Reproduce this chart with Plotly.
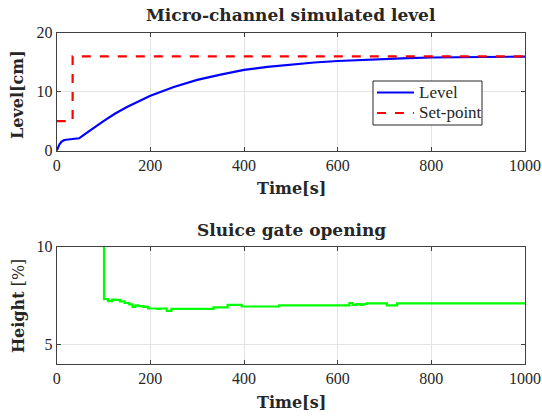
import plotly.graph_objects as go

# ---- data ----
level_t = [0, 3, 6, 10, 15, 20, 30, 40, 48, 55, 65, 80, 100, 125, 150, 200, 250, 300,
           350, 400, 450, 500, 550, 600, 650, 700, 750, 800, 850, 900, 950, 1000]
level_v = [0, 0.7, 1.1, 1.5, 1.75, 1.85, 1.9, 1.95, 2.1, 2.5, 3.0, 3.9, 5.0, 6.3, 7.4, 9.3,
           10.8, 12.0, 12.9, 13.7, 14.2, 14.6, 14.95, 15.2, 15.4, 15.55, 15.7, 15.8, 15.85,
           15.9, 15.92, 15.95]
setpoint_t = [0, 34, 34, 1000]
setpoint_v = [5, 5, 16, 16]

gate_t = [100, 101, 110, 118, 125, 135, 145, 155, 162, 168, 175, 185, 195, 215, 222, 235,
          245, 335, 365, 395, 475, 625, 632, 640, 648, 655, 662, 705, 727, 1000]
gate_v = [10, 7.32, 7.22, 7.3, 7.28, 7.2, 7.12, 7.05, 6.92, 7.0, 6.96, 6.92, 6.84, 6.82,
          6.84, 6.72, 6.82, 6.9, 7.02, 6.94, 7.0, 7.12, 7.02, 7.06, 7.02, 7.07, 7.1, 7.0,
          7.1, 7.1]

x_ticks = [0, 200, 400, 600, 800, 1000]
top_y_ticks = [0, 10, 20]
bot_y_ticks = [5, 10]
legend_names = ["Level", "Set-point"]

W, H = 542, 419
TICKFONT = dict(family="Liberation Serif", size=16, color="#262626")
BOLD = "DejaVu Serif"
AX = "#404040"
GRID = "#e3e3e3"
BLUE, RED, GREEN = "#0000ff", "#ff0000", "#00ff00"

fig = go.Figure()
fig.add_trace(go.Scatter(x=level_t, y=level_v, mode="lines", name=legend_names[0],
                         showlegend=False, line=dict(color=BLUE, width=2.2),
                         xaxis="x", yaxis="y"))
fig.add_trace(go.Scatter(x=setpoint_t, y=setpoint_v, mode="lines", name=legend_names[1],
                         showlegend=False, line=dict(color=RED, width=2.2, dash="dash"),
                         xaxis="x", yaxis="y"))
fig.add_trace(go.Scatter(x=gate_t, y=gate_v, mode="lines", showlegend=False,
                         line=dict(color=GREEN, width=2.2, shape="hv"),
                         xaxis="x2", yaxis="y2"))

xdom = [56.7 / W, 525 / W]
common_x = dict(range=[0, 1000], tickvals=x_ticks, showgrid=True, gridcolor=GRID, gridwidth=1,
                showline=True, linecolor=AX, linewidth=1, mirror="ticks", ticks="inside",
                ticklen=4, tickcolor=AX, tickfont=TICKFONT, zeroline=False, domain=xdom,
                automargin=False)
common_y = dict(showgrid=True, gridcolor=GRID, gridwidth=1, showline=True, linecolor=AX,
                linewidth=1, mirror="ticks", ticks="inside", ticklen=4, tickcolor=AX,
                tickfont=TICKFONT, zeroline=False, automargin=False)

fig.update_layout(
    width=W, height=H, margin=dict(l=0, r=0, t=0, b=0, autoexpand=False),
    paper_bgcolor="white", plot_bgcolor="white",
    xaxis=dict(**common_x, anchor="y"),
    yaxis=dict(**common_y, range=[0, 20], tickvals=top_y_ticks,
               domain=[1 - 150.7 / H, 1 - 32.7 / H], anchor="x"),
    xaxis2=dict(**common_x, anchor="y2"),
    yaxis2=dict(**common_y, range=[4, 10], tickvals=bot_y_ticks,
                domain=[1 - 364 / H, 1 - 246.7 / H], anchor="x2"),
    showlegend=False,
)


def px_x(p):
    return p / W


def px_y(p):
    return 1 - p / H


def ann(text, px, py, size=16, angle=0, family=BOLD, xanchor="center"):
    fig.add_annotation(text=text, x=px_x(px), y=px_y(py), xref="paper", yref="paper",
                       showarrow=False, textangle=angle, xanchor=xanchor, yanchor="middle",
                       font=dict(family=family, size=size, color="#262626"))


ann("<b>Micro-channel simulated level</b>", 291, 15, size=17)
ann("<b>Time[s]</b>", 291, 189, size=16)
ann("<b>Level[cm]</b>", 18, 95, size=16, angle=-90)
ann("<b>Sluice gate opening</b>", 291, 230, size=17)
ann("<b>Time[s]</b>", 291, 402, size=16)
ann("<b>Height</b> [%]", 18, 306, size=16, angle=-90)

# ---- legend box (drawn manually to match the compact MATLAB legend) ----
fig.add_shape(type="rect", xref="paper", yref="paper", x0=px_x(373), x1=px_x(482),
              y0=px_y(125), y1=px_y(81), line=dict(color="#262626", width=1),
              fillcolor="white", layer="above")
legend_rows = [(92.5, BLUE, "solid"), (113, RED, "dash")]
for (row_y, col, dash), name in zip(legend_rows, legend_names):
    fig.add_shape(type="line", xref="paper", yref="paper", x0=px_x(377), x1=px_x(414),
                  y0=px_y(row_y), y1=px_y(row_y), line=dict(color=col, width=2.2, dash=dash),
                  layer="above")
    ann(name, 417, row_y, size=17, family="Liberation Serif", xanchor="left")

fig.write_html("out.html")
